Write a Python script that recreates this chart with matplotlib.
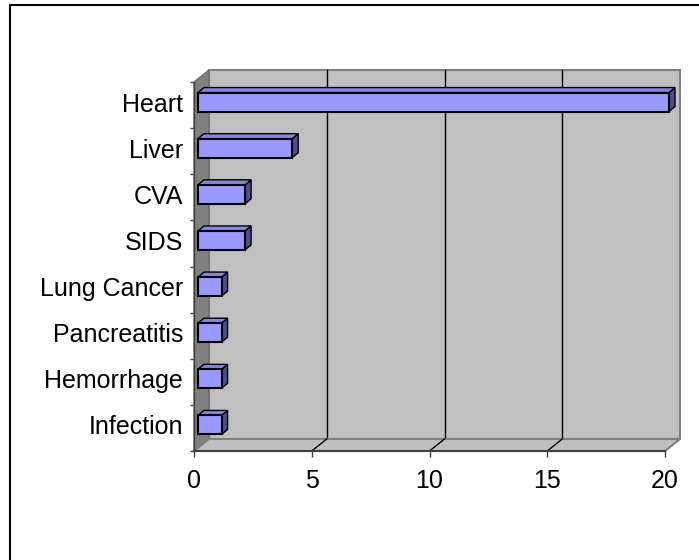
import matplotlib
matplotlib.use("Agg")
import matplotlib.pyplot as plt
from matplotlib.patches import Rectangle, Polygon
import numpy as np

plt.rcParams['font.family'] = ['Liberation Sans', 'DejaVu Sans']

# data (top to bottom)
causes = ['Heart', 'Liver', 'CVA', 'SIDS', 'Lung Cancer', 'Pancreatitis',
          'Hemorrhage', 'Infection']
counts = [20, 4, 2, 2, 1, 1, 1, 1]
xticks = [0, 5, 10, 15, 20]

W, H = 699, 560
fig = plt.figure(figsize=(W / 100, H / 100), dpi=100)
ax = fig.add_axes([194 / W, 109 / H, 471 / W, 369 / H])

n = len(causes)
ypos = np.arange(n)[::-1]  # Heart on top
xmax = xticks[-1]
ax.set_xlim(0, xmax)
ax.set_ylim(-0.5, n - 0.5)

# pixel -> data unit helpers (axes is 471 x 369 px)
ux = xmax / 471.0
uy = n / 369.0
DX, DY = 15 * ux, 12 * uy          # depth of the chart box
BOX, BOY = 4 * ux, 3 * uy          # bar offset from the front plane
BDX, BDY = 6 * ux, 5 * uy          # bar depth
BH = 19 * uy                        # bar thickness

y0, y1 = -0.5, n - 0.5

# back wall
ax.add_patch(Rectangle((DX, y0 + DY), xmax, n, facecolor='#c0c0c0',
                       edgecolor='#808080', lw=1.5, clip_on=False, zorder=1))
# left side wall
ax.add_patch(Polygon([(0, y0), (0, y1), (DX, y1 + DY), (DX, y0 + DY)],
                     closed=True, facecolor='#808080', edgecolor='#6e6e6e',
                     lw=1, clip_on=False, zorder=2))
# gridlines on back wall
for t in xticks[1:-1]:
    ax.plot([t + DX, t + DX], [y0 + DY, y1 + DY], color='black', lw=1,
            clip_on=False, zorder=2)
# floor
ax.add_patch(Polygon([(0, y0), (xmax, y0), (xmax + DX, y0 + DY), (DX, y0 + DY)],
                     closed=True, facecolor='#c0c0c0', edgecolor='#808080',
                     lw=1.5, clip_on=False, zorder=3))
for t in xticks[1:-1]:
    ax.plot([t, t + DX], [y0, y0 + DY], color='black', lw=1,
            clip_on=False, zorder=3)
ax.plot([0, xmax], [y0, y0], color='#404040', lw=1.5, clip_on=False, zorder=4)
ax.plot([0, 0], [y0, y1], color='#404040', lw=1, clip_on=False, zorder=4)

# 3d bars
for y, v in zip(ypos, counts):
    bx = BOX
    by = y + BOY - BH / 2
    front = Rectangle((bx, by), v, BH, facecolor='#9999ff', edgecolor='black',
                      lw=1.5, clip_on=False, zorder=6)
    top = Polygon([(bx, by + BH), (bx + v, by + BH),
                   (bx + v + BDX, by + BH + BDY), (bx + BDX, by + BH + BDY)],
                  closed=True, facecolor='#8585e0', edgecolor='black',
                  lw=1, clip_on=False, zorder=5)
    side = Polygon([(bx + v, by), (bx + v, by + BH),
                    (bx + v + BDX, by + BH + BDY), (bx + v + BDX, by + BDY)],
                   closed=True, facecolor='#4d4d8f', edgecolor='black',
                   lw=1, clip_on=False, zorder=5)
    ax.add_patch(side)
    ax.add_patch(top)
    ax.add_patch(front)

for s in ax.spines.values():
    s.set_visible(False)
ax.set_facecolor('none')

ax.set_yticks(ypos + BOY)
ax.set_yticklabels(causes, fontsize=18)
ax.set_yticks(np.arange(-0.5, n, 1.0), minor=True)
ax.tick_params(axis='y', which='major', length=0, pad=8)
ax.tick_params(axis='y', which='minor', length=3, width=1, color='#404040',
               direction='out')

ax.set_xticks(xticks)
ax.set_xticklabels([str(t) for t in xticks], fontsize=18)
ax.tick_params(axis='x', length=4, width=1, color='#404040', direction='out',
               pad=9)

# outer chart border (only left and top edges visible)
fig.add_artist(Rectangle((10 / W, -0.1), 1.2, (H - 5) / H + 0.1,
                         transform=fig.transFigure, facecolor='none',
                         edgecolor='black', lw=1.5))

fig.savefig('out.png', dpi=100)
